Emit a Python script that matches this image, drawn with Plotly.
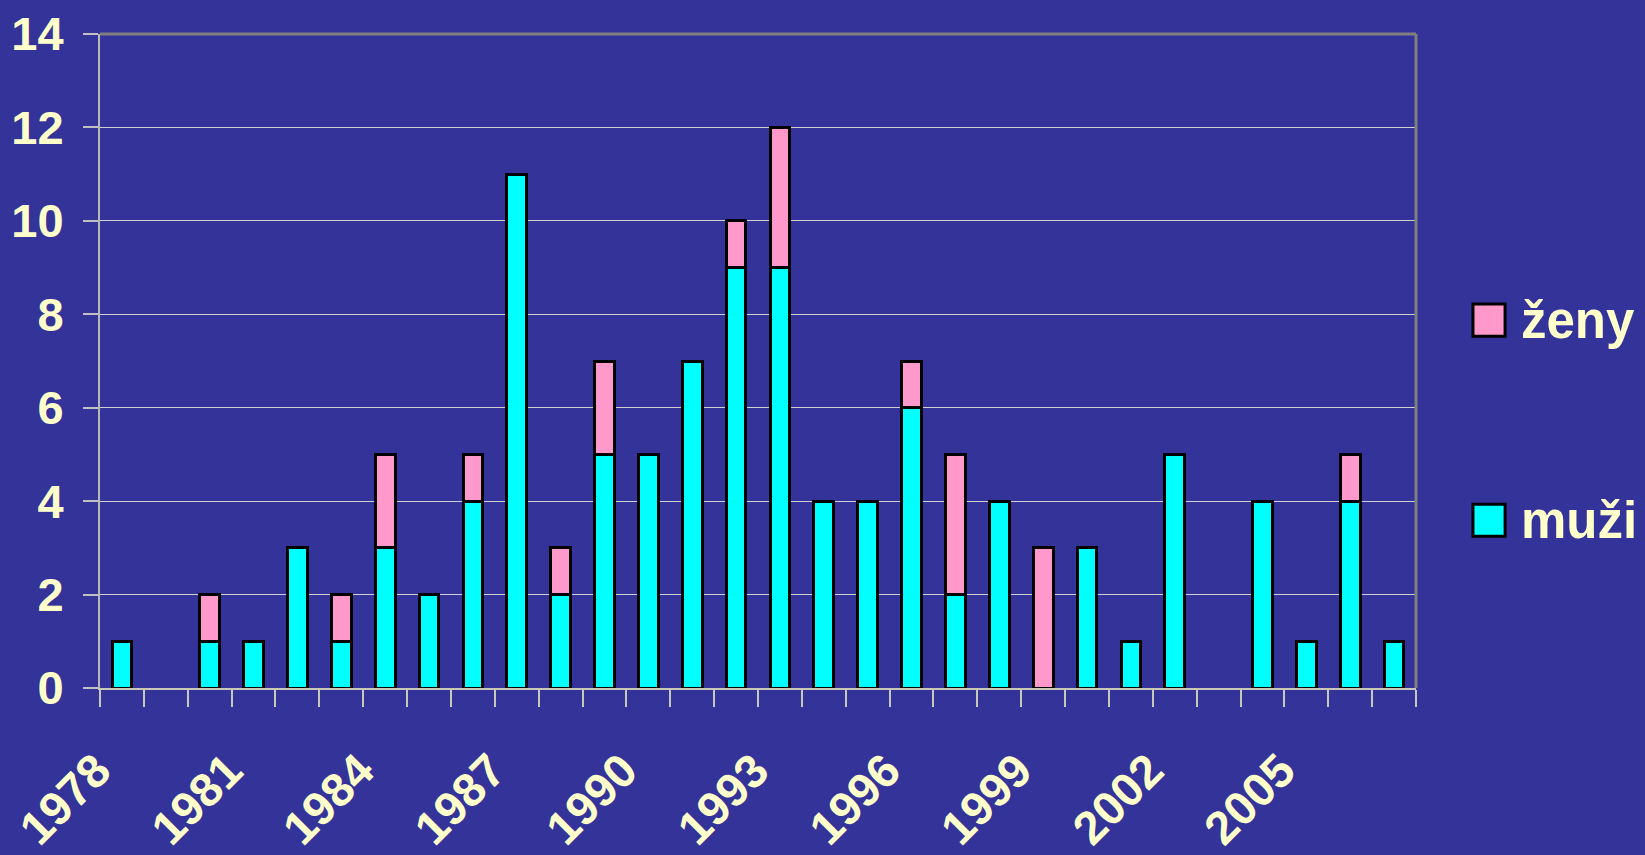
import plotly.graph_objects as go

years = [str(y) for y in range(1978, 2008)]
muzi = [1, 0, 1, 1, 3, 1, 3, 2, 4, 11, 2, 5, 5, 7, 9, 9, 4, 4, 6, 2, 4, 0, 3, 1, 5, 0, 4, 1, 4, 1]
zeny = [0, 0, 1, 0, 0, 1, 2, 0, 1, 0, 1, 2, 0, 0, 1, 3, 0, 0, 1, 3, 0, 3, 0, 0, 0, 0, 0, 0, 1, 0]
tick_labels = [y if (int(y) - 1978) % 3 == 0 and int(y) <= 2005 else "" for y in years]

BG = "#333399"
TXT = "#FFFFCC"
FONT = "Liberation Sans"

def nz(arr):
    return [v if v else None for v in arr]

fig = go.Figure()
fig.add_trace(go.Bar(x=years, y=nz(muzi), name="muži", marker=dict(color="#00FFFF", line=dict(color="black", width=3)),
                     showlegend=False))
fig.add_trace(go.Bar(x=years, y=nz(zeny), name="ženy", marker=dict(color="#FF99CC", line=dict(color="black", width=3)),
                     showlegend=False))

fig.update_layout(
    width=1645, height=855,
    paper_bgcolor=BG, plot_bgcolor=BG,
    barmode="stack", bargap=0.55,
    margin=dict(l=100, r=229, t=34, b=167),
    font=dict(family=FONT, color=TXT, size=48),
    xaxis=dict(
        type="category", tickmode="array", tickvals=years, ticktext=tick_labels,
        tickson="boundaries", ticks="outside", ticklen=17, tickwidth=1.5, tickcolor="#C8C8B8",
        showline=True, linecolor="#C8C8B8", linewidth=2, showgrid=False, automargin=False,
        tickangle=-45, tickfont=dict(family=FONT, size=47, color=TXT, weight="bold"),
        ticklabelstandoff=34, ticklabelshift=-25,
    ),
    yaxis=dict(
        range=[0, 14], dtick=2, ticks="outside", ticklen=15, tickwidth=1.5, tickcolor="#C0C0C0",
        showline=True, linecolor="#B8B8B8", linewidth=2, automargin=False,
        showgrid=True, gridcolor="#D0D0D0", gridwidth=1, zeroline=False,
        tickfont=dict(family=FONT, size=47, color=TXT, weight="bold"),
        ticklabelstandoff=10,
    ),
    shapes=[
        dict(type="line", xref="paper", yref="paper", x0=0, x1=1, y0=1, y1=1, line=dict(color="#808080", width=3)),
        dict(type="line", xref="paper", yref="paper", x0=1, x1=1, y0=0, y1=1, line=dict(color="#808080", width=3)),
        # legend keys
        dict(type="rect", xref="paper", yref="paper", x0=1.0433, x1=1.0677, y0=0.538, y1=0.587,
             fillcolor="#FF99CC", line=dict(color="black", width=3)),
        dict(type="rect", xref="paper", yref="paper", x0=1.0433, x1=1.0677, y0=0.232, y1=0.281,
             fillcolor="#00FFFF", line=dict(color="black", width=3)),
    ],
    annotations=[
        dict(text="ženy", xref="paper", yref="paper", x=1.0783, y=0.562, xanchor="left", yanchor="middle",
             showarrow=False, font=dict(family=FONT, size=51, color=TXT, weight="bold")),
        dict(text="muži", xref="paper", yref="paper", x=1.0783, y=0.256, xanchor="left", yanchor="middle",
             showarrow=False, font=dict(family=FONT, size=51, color=TXT, weight="bold")),
    ],
)

fig.write_html("out.html", config={"displayModeBar": False},
               post_script="document.body.style.margin='0';document.body.style.padding='0';")
